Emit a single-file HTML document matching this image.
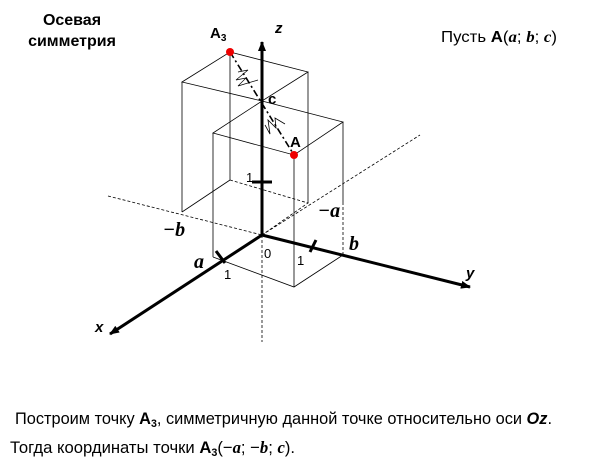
<!DOCTYPE html>
<html><head><meta charset="utf-8"><style>
body{margin:0;background:#fff;}
svg{display:block;font-family:"Liberation Sans",sans-serif;}
</style></head><body>
<svg width="600" height="469" viewBox="0 0 600 469">
<defs>
<marker id="ar" markerWidth="10" markerHeight="8" refX="9" refY="4" orient="auto" markerUnits="userSpaceOnUse"><path d="M0,0 L10,4 L0,8 Z" fill="#000"/></marker>
</defs>
<g stroke="#000" fill="none" stroke-width="0.8">
<path d="M108,196 L262,235 M262,235 L420,135 M262,235 L262,342" stroke-dasharray="3,2"/>
<path d="M230,52 L308,72 L262,101 L182,82 Z"/>
<path d="M182,82 L182,212 M230,52 L230,180 M308,72 L308,203"/>
<path d="M230,180 L308,203 L262,235" stroke-dasharray="3,2"/>
<path d="M182,212 L230,180"/>
<path d="M262,101 L343,122 L294,155 L213,133 Z"/>
<path d="M213,133 L213,257 M294,155 L294,287 M343,122 L343,202"/>
<path d="M343,202 L343,255" stroke-dasharray="3,2"/>
<path d="M213,257 L294,287 L343,255"/>
<path d="M238,72 L248,70 L236,80 L246,78 L238,86 L258,80" stroke-width="0.7"/>
<path d="M265,125 L270,134 L268,120 L276,128 L275,118 L285,124"/>
</g>
<path d="M230,52 L294,155" stroke="#000" stroke-width="1.6" stroke-dasharray="7,3,2,3" fill="none"/>
<g stroke="#000" stroke-width="3" fill="none">
<path d="M262,235 L262,42" marker-end="url(#ar)"/>
<path d="M262,235 L470,287" marker-end="url(#ar)"/>
<path d="M262,235 L110,334" marker-end="url(#ar)"/>
<path d="M252,182 L272,182 M310,252 L316,240 M216,251 L225,263"/>
</g>
<circle cx="230" cy="52" r="4" fill="#e00"/>
<circle cx="294" cy="155" r="4" fill="#e00"/>
<g font-size="16" font-weight="bold" text-anchor="middle">
<text x="72" y="25">Осевая</text>
<text x="72" y="46">симметрия</text>
</g>
<text x="210" y="38" font-size="15" font-weight="bold">A<tspan font-size="10" dy="3">3</tspan></text>
<text x="275" y="33" font-size="15" font-weight="bold" font-style="italic">z</text>
<text x="268" y="104" font-size="15" font-weight="bold">c</text>
<text x="290" y="147" font-size="15" font-weight="bold">A</text>
<text x="246" y="182" font-size="13">1</text>
<text x="264" y="258" font-size="13">0</text>
<text x="297" y="265" font-size="13">1</text>
<text x="224" y="279" font-size="13">1</text>
<g font-family="Liberation Serif,serif" font-weight="bold" font-style="italic" font-size="20">
<text x="318" y="217">−a</text>
<text x="163" y="236">−b</text>
<text x="349" y="250">b</text>
<text x="194" y="268">a</text>
</g>
<text x="466" y="278" font-size="15" font-weight="bold" font-style="italic">y</text>
<text x="95" y="332" font-size="15" font-weight="bold" font-style="italic">x</text>
<text x="441" y="42" font-size="16" textLength="116" lengthAdjust="spacingAndGlyphs">Пусть <tspan font-weight="bold">A</tspan>(<tspan font-family="Liberation Serif,serif" font-weight="bold" font-style="italic">a</tspan>; <tspan font-family="Liberation Serif,serif" font-weight="bold" font-style="italic">b</tspan>; <tspan font-family="Liberation Serif,serif" font-weight="bold" font-style="italic">c</tspan>)</text>
<text x="15" y="424" font-size="17" textLength="537" lengthAdjust="spacingAndGlyphs">Построим точку <tspan font-weight="bold">A</tspan><tspan font-size="11" dy="3" font-weight="bold">3</tspan><tspan dy="-3">, симметричную данной точке относительно оси </tspan><tspan font-weight="bold" font-style="italic">Oz</tspan>.</text>
<text x="10" y="453" font-size="17" textLength="285" lengthAdjust="spacingAndGlyphs">Тогда координаты точки <tspan font-weight="bold">A</tspan><tspan font-size="11" dy="3" font-weight="bold">3</tspan><tspan dy="-3">(−</tspan><tspan font-family="Liberation Serif,serif" font-weight="bold" font-style="italic">a</tspan>; −<tspan font-family="Liberation Serif,serif" font-weight="bold" font-style="italic">b</tspan>; <tspan font-family="Liberation Serif,serif" font-weight="bold" font-style="italic">c</tspan>).</text>
</svg>
</body></html>
